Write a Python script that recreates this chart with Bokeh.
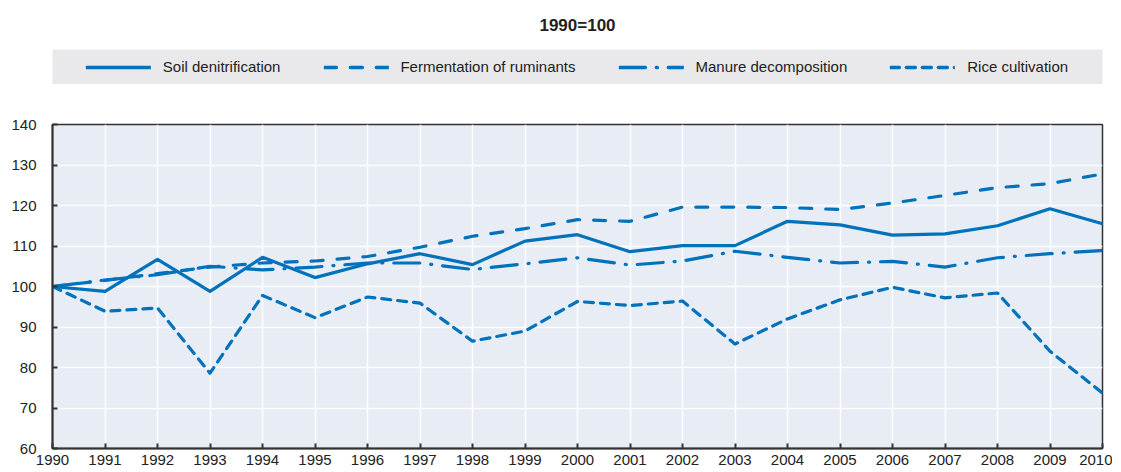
from bokeh.plotting import figure
from bokeh.models import (ColumnDataSource, Range1d, FixedTicker, Legend, LegendItem, Title)
from bokeh.layouts import column
from bokeh.embed import file_html
from bokeh.resources import INLINE

# ---------------- data ----------------
years = list(range(1990, 2011))
soil_denitrification = [100, 98.8, 106.7, 98.8, 107.2, 102.2, 105.6, 108.1, 105.4, 111.2, 112.8,
                        108.6, 110.1, 110.1, 116.1, 115.2, 112.7, 113.0, 115.0, 119.2, 115.5]
fermentation_ruminants = [100, 101.5, 103.2, 104.8, 105.8, 106.3, 107.4, 109.7, 112.4, 114.3, 116.5,
                          116.1, 119.6, 119.6, 119.5, 119.0, 120.6, 122.5, 124.4, 125.4, 127.8]
manure_decomposition = [100, 101.6, 102.9, 105.0, 104.1, 104.8, 105.8, 105.8, 104.2, 105.6, 107.1,
                        105.3, 106.3, 108.7, 107.2, 105.8, 106.2, 104.8, 107.1, 108.1, 108.9]
rice_cultivation = [100, 93.9, 94.7, 78.6, 97.8, 92.3, 97.4, 95.9, 86.5, 89.0, 96.3,
                    95.3, 96.4, 85.8, 92.0, 96.7, 99.8, 97.2, 98.4, 84.0, 73.7]
series_names = ["Soil denitrification", "Fermentation of ruminants",
                "Manure decomposition", "Rice cultivation"]
y_ticks = [60, 70, 80, 90, 100, 110, 120, 130, 140]
title_text = "1990=100"

# ---------------- styles ----------------
BLUE = "#0072BC"
FONT = "Liberation Sans"
dashes = ["solid", "12 14", "26 11 1 11", "9 7"]

W = 1112
NAN = float("nan")

# ---------------- legend / title strip ----------------
leg = figure(width=W, height=84, x_range=Range1d(0, 1), y_range=Range1d(0, 1),
             output_backend="svg", toolbar_location=None,
             x_axis_type=None, y_axis_type=None,
             min_border_left=46, min_border_right=W - 1106, min_border_top=49, min_border_bottom=0)
leg.background_fill_color = "#e9e9eb"
leg.border_fill_color = "white"
leg.outline_line_color = None
leg.grid.visible = False
leg.title = Title(text=title_text, align="center", vertical_align="top", text_font=FONT,
                  text_font_size="17px", text_font_style="bold", text_color="#222222", standoff=26)

items = []
for name, d in zip(series_names, dashes):
    r = leg.line(x=[NAN, NAN], y=[NAN, NAN], line_color=BLUE, line_width=3.5, line_dash=d,
                 line_cap="round", line_join="round")
    items.append(LegendItem(label=name, renderers=[r]))

legend = Legend(items=items, orientation="horizontal", location="center",
                padding=0, margin=0, spacing=43, glyph_width=65, label_standoff=12,
                label_text_font=FONT, label_text_font_size="15px", label_text_color="#222222",
                background_fill_alpha=0, border_line_color=None)
leg.add_layout(legend, "center")

# ---------------- main chart ----------------
p = figure(width=W, height=388, x_range=Range1d(1990, 2010), y_range=Range1d(60, 140),
           output_backend="svg", toolbar_location=None,
           min_border_left=52, min_border_right=W - 1102, min_border_top=40, min_border_bottom=24)
p.background_fill_color = "#e7ecf5"
p.border_fill_color = "white"
p.outline_line_color = "#333333"
p.outline_line_width = 1.5

src = ColumnDataSource(dict(year=years, soil=soil_denitrification, ferm=fermentation_ruminants,
                            manure=manure_decomposition, rice=rice_cultivation))
for col, d in zip(["soil", "ferm", "manure", "rice"], dashes):
    p.line(x="year", y=col, source=src, line_color=BLUE, line_width=3.2, line_dash=d,
           line_cap="round", line_join="round")

p.xaxis.ticker = FixedTicker(ticks=years)
p.yaxis.ticker = FixedTicker(ticks=y_ticks)
for ax in (p.xaxis[0], p.yaxis[0]):
    ax.axis_line_color = "#333333"
    ax.axis_line_width = 2
    ax.major_tick_in = 5
    ax.major_tick_out = 0
    ax.major_tick_line_color = "#333333"
    ax.major_tick_line_width = 2
    ax.minor_tick_line_color = None
    ax.major_label_text_font = FONT
    ax.major_label_text_font_size = "15px"
    ax.major_label_text_color = "#222222"
p.yaxis.major_label_standoff = 16
p.xaxis.major_label_standoff = 6

p.grid.grid_line_color = "white"
p.grid.grid_line_width = 1.5

layout = column(leg, p, spacing=0)
open("out.html", "w").write(file_html(layout, INLINE))
